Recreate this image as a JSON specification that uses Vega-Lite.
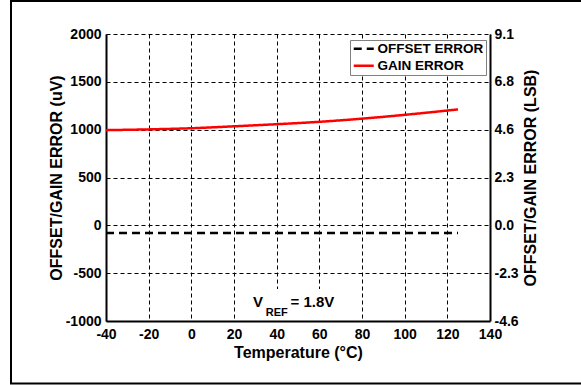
{
  "$schema": "https://vega.github.io/schema/vega-lite/v6.json",
  "width": 384,
  "height": 287,
  "autosize": {"type": "none"},
  "padding": {"left": 106, "top": 34, "right": 91, "bottom": 64},
  "background": "white",
  "config": {
    "view": {"stroke": null},
    "font": "Liberation Sans",
    "axis": {
      "domainColor": "black",
      "domainWidth": 2,
      "ticks": false,
      "labelFont": "Liberation Sans",
      "labelFontSize": 14,
      "labelFontWeight": "bold",
      "labelColor": "black",
      "titleFont": "Liberation Sans",
      "titleFontSize": 16,
      "titleFontWeight": "bold",
      "titleColor": "black",
      "gridColor": "black",
      "gridDash": [4, 3],
      "gridWidth": 1,
      "gridOpacity": 1,
      "labelFlush": false,
      "labelOverlap": false
    }
  },
  "datasets": {
    "gain": [
      {"temp": -40, "err": 995, "series": "GAIN ERROR"},
      {"temp": -20, "err": 1003, "series": "GAIN ERROR"},
      {"temp": 0, "err": 1015, "series": "GAIN ERROR"},
      {"temp": 20, "err": 1035, "series": "GAIN ERROR"},
      {"temp": 40, "err": 1057, "series": "GAIN ERROR"},
      {"temp": 60, "err": 1082, "series": "GAIN ERROR"},
      {"temp": 80, "err": 1115, "series": "GAIN ERROR"},
      {"temp": 100, "err": 1155, "series": "GAIN ERROR"},
      {"temp": 120, "err": 1200, "series": "GAIN ERROR"},
      {"temp": 125, "err": 1212, "series": "GAIN ERROR"}
    ],
    "offset": [
      {"temp": -40, "err": -80, "series": "OFFSET ERROR"},
      {"temp": 125, "err": -80, "series": "OFFSET ERROR"}
    ]
  },
  "layer": [
    {
      "data": {"values": [{}]},
      "mark": {"type": "rect", "fill": null, "stroke": "black", "strokeWidth": 2, "clip": false},
      "encoding": {
        "x": {"value": -95},
        "x2": {"value": 480},
        "y": {"value": -33},
        "y2": {"value": 349.5}
      }
    },
    {
      "layer": [
        {
          "data": {"name": "gain"},
          "mark": {"type": "line", "strokeWidth": 2.5, "interpolate": "monotone"},
          "encoding": {
            "x": {
              "field": "temp", "type": "quantitative",
              "scale": {"domain": [-40, 140], "nice": false},
              "axis": {
                "title": "Temperature (°C)",
                "values": [-40, -20, 0, 20, 40, 60, 80, 100, 120, 140],
                "labelExpr": "'' + datum.value",
                "grid": true,
                "labelPadding": 6,
                "titlePadding": 3
              }
            },
            "y": {
              "field": "err", "type": "quantitative",
              "scale": {"domain": [-1000, 2000], "nice": false},
              "axis": {
                "orient": "left",
                "title": "OFFSET/GAIN ERROR (uV)",
                "values": [-1000, -500, 0, 500, 1000, 1500, 2000],
                "labelExpr": "'' + datum.value",
                "grid": true,
                "labelPadding": 5,
                "titlePadding": 1
              }
            },
            "color": {
              "field": "series", "type": "nominal",
              "scale": {"domain": ["OFFSET ERROR", "GAIN ERROR"], "range": ["black", "#ff0000"]},
              "legend": {
                "title": null, "orient": "none", "legendX": 244, "legendY": 6,
                "symbolType": "M-1,0H3", "symbolSize": 100, "symbolStrokeWidth": 2.5,
                "labelFontSize": 13.5, "labelFontWeight": "bold", "labelFont": "Liberation Sans",
                "labelColor": "black", "strokeColor": "#808080", "fillColor": "white",
                "padding": 2, "labelOffset": 12, "rowPadding": 2, "labelLimit": 300
              }
            },
            "strokeDash": {
              "field": "series", "type": "nominal",
              "scale": {"domain": ["OFFSET ERROR", "GAIN ERROR"], "range": [[8, 5], [1, 0]]},
              "legend": {
                "title": null, "orient": "none", "legendX": 244, "legendY": 6,
                "symbolType": "M-1,0H3", "symbolSize": 100, "symbolStrokeWidth": 2.5,
                "labelFontSize": 13.5, "labelFontWeight": "bold", "labelFont": "Liberation Sans",
                "labelColor": "black", "strokeColor": "#808080", "fillColor": "white",
                "padding": 2, "labelOffset": 12, "rowPadding": 2, "labelLimit": 300
              }
            }
          }
        },
        {
          "data": {"values": [{}]},
          "mark": {"type": "rect", "fill": "white", "stroke": null},
          "encoding": {
            "x": {"datum": 27.5, "type": "quantitative"},
            "x2": {"datum": 72},
            "y": {"datum": -665, "type": "quantitative"},
            "y2": {"datum": -985}
          }
        },
        {
          "data": {"values": [{}]},
          "mark": {"type": "text", "align": "left", "baseline": "alphabetic", "fontSize": 15, "fontWeight": "bold", "color": "black"},
          "encoding": {
            "x": {"datum": 28.9, "type": "quantitative"},
            "y": {"datum": -854, "type": "quantitative"},
            "text": {"value": "V"}
          }
        },
        {
          "data": {"values": [{}]},
          "mark": {"type": "text", "align": "left", "baseline": "alphabetic", "fontSize": 11, "fontWeight": "bold", "color": "black"},
          "encoding": {
            "x": {"datum": 34.9, "type": "quantitative"},
            "y": {"datum": -945, "type": "quantitative"},
            "text": {"value": "REF"}
          }
        },
        {
          "data": {"values": [{}]},
          "mark": {"type": "text", "align": "left", "baseline": "alphabetic", "fontSize": 15, "fontWeight": "bold", "color": "black"},
          "encoding": {
            "x": {"datum": 46.5, "type": "quantitative"},
            "y": {"datum": -854, "type": "quantitative"},
            "text": {"value": "= 1.8V"}
          }
        }
      ]
    },
    {
      "data": {"name": "offset"},
      "mark": {"type": "line", "strokeWidth": 2.5},
      "encoding": {
        "x": {"field": "temp", "type": "quantitative", "scale": {"domain": [-40, 140], "nice": false}},
        "y": {
          "field": "err", "type": "quantitative",
          "scale": {"domain": [-1000, 2000], "nice": false},
          "axis": {
            "orient": "right",
            "title": "OFFSET/GAIN ERROR (LSB)",
            "titleAngle": 270,
            "titleBaseline": "top",
            "values": [-1000, -500, 0, 500, 1000, 1500, 2000],
            "labelExpr": "datum.value == 2000 ? '9.1' : datum.value == 1500 ? '6.8' : datum.value == 1000 ? '4.6' : datum.value == 500 ? '2.3' : datum.value == 0 ? '0.0' : datum.value == -500 ? '-2.3' : '-4.6'",
            "grid": false,
            "labelPadding": 4,
            "titlePadding": 4
          }
        },
        "color": {"field": "series", "type": "nominal"},
        "strokeDash": {"field": "series", "type": "nominal"}
      }
    }
  ],
  "resolve": {"scale": {"y": "independent"}}
}
